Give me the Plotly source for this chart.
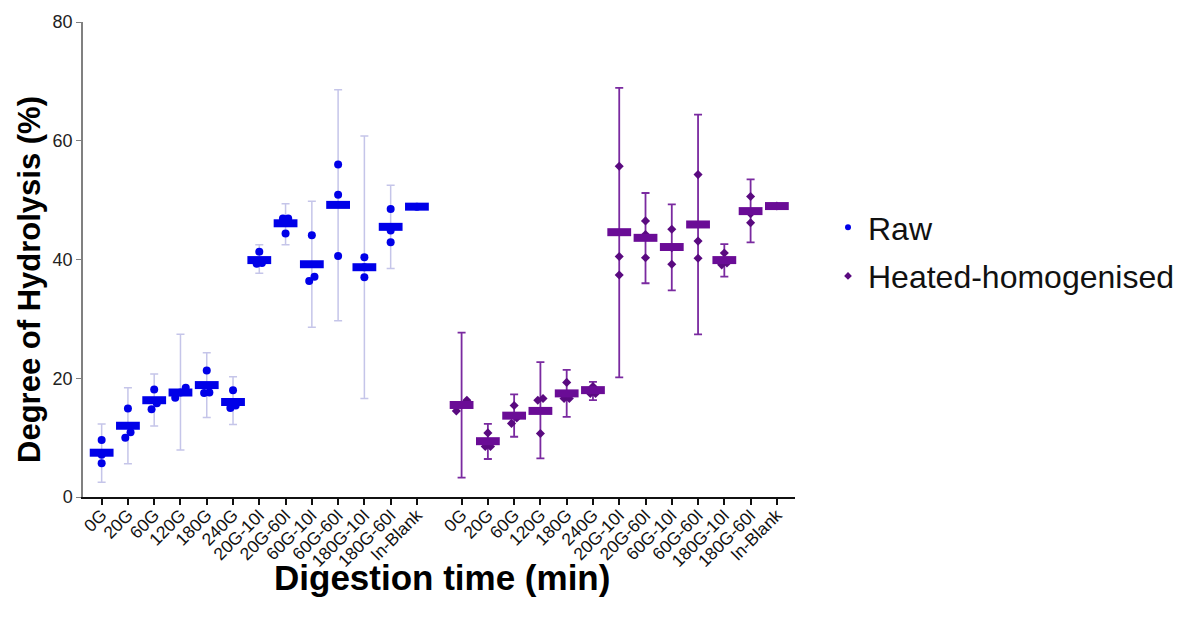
import plotly.graph_objects as go

# ---------------- data ----------------
categories = ["0G", "20G", "60G", "120G", "180G", "240G", "20G-10I", "20G-60I",
              "60G-10I", "60G-60I", "180G-10I", "180G-60I", "In-Blank"]

raw_mean = [7.46, 12.0, 16.3, 17.6, 18.85, 16.0, 39.9, 46.1, 39.2, 49.2, 38.7, 45.5, 48.9]
raw_upper = [12.3, 18.4, 20.7, 27.4, 24.3, 20.25, 42.5, 49.4, 49.8, 68.6, 60.8, 52.5, 48.9]
raw_lower = [2.5, 5.6, 11.95, 7.9, 13.4, 12.2, 37.7, 42.5, 28.6, 29.7, 16.6, 38.5, 48.9]
raw_points = [
    [9.6, 7.1, 5.7],
    [14.9, 10.9, 10.0],
    [18.1, 15.8, 14.8],
    [18.4, 17.6, 16.7],
    [21.3, 17.6, 17.5],
    [18.0, 15.4, 15.0],
    [41.3, 39.4, 39.3],
    [46.9, 46.9, 44.4],
    [44.1, 37.1, 36.4],
    [56.0, 50.9, 40.6],
    [40.4, 38.7, 37.0],
    [48.5, 44.9, 42.9],
    [48.9],
]

heat_mean = [15.5, 9.4, 13.7, 14.5, 17.45, 18.0, 44.6, 43.65, 42.1, 45.9, 39.9, 48.15, 49.0]
heat_upper = [27.7, 12.3, 17.3, 22.7, 21.4, 19.4, 68.9, 51.2, 49.3, 64.4, 42.6, 53.5, 49.0]
heat_lower = [3.25, 6.4, 10.15, 6.5, 13.5, 16.3, 20.15, 36.0, 34.8, 27.4, 37.1, 42.9, 49.0]
heat_points = [
    [16.3, 15.5, 14.5],
    [10.8, 8.5, 8.5],
    [15.4, 13.3, 12.4],
    [16.6, 16.3, 10.7],
    [19.3, 16.6, 16.6],
    [18.6, 17.45, 17.45],
    [55.7, 40.5, 37.4],
    [46.5, 44.2, 40.3],
    [45.1, 42.0, 39.2],
    [54.3, 43.1, 40.2],
    [41.1, 39.4, 39.1],
    [50.6, 47.7, 46.2],
    [49.0],
]

# ---------------- layout helpers ----------------
GROUP_GAP = 13.7          # x offset of second group (category units)
RAW_COLOR = "#0000e8"
RAW_ERR = "rgba(150,150,215,0.55)"
HEAT_COLOR = "#6a0c96"
HEAT_PT = "#5a0a80"
HEAT_ERR = "#7a2aa0"
FONT = "Liberation Sans, Arial, sans-serif"


def jitter(vals, thr=1.05, step=0.2):
    order = sorted(range(len(vals)), key=lambda i: vals[i])
    offs = [0.0] * len(vals)
    clusters, cur = [], [order[0]] if order else []
    for a, b in zip(order, order[1:]):
        if abs(vals[b] - vals[a]) < thr:
            cur.append(b)
        else:
            clusters.append(cur)
            cur = [b]
    if cur:
        clusters.append(cur)
    for cl in clusters:
        n = len(cl)
        for k, idx in enumerate(cl):
            offs[idx] = (k - (n - 1) / 2) * step
    return offs


def add_group(fig, x0, mean, upper, lower, points, color, ptcolor, errcolor,
              errthick, symbol, ptsize):
    xs = [x0 + i for i in range(len(mean))]
    # error bars
    fig.add_trace(go.Scatter(
        x=xs, y=mean, mode="markers", marker=dict(size=1, opacity=0),
        error_y=dict(type="data", symmetric=False,
                     array=[u - m for u, m in zip(upper, mean)],
                     arrayminus=[m - l for l, m in zip(lower, mean)],
                     color=errcolor, thickness=errthick, width=4),
        showlegend=False, hoverinfo="skip"))
    # individual points
    px, py = [], []
    for x, vals in zip(xs, points):
        for o, v in zip(jitter(vals), vals):
            px.append(x + o)
            py.append(v)
    fig.add_trace(go.Scatter(
        x=px, y=py, mode="markers",
        marker=dict(symbol=symbol, size=ptsize, color=ptcolor, line=dict(width=0)),
        showlegend=False))
    # mean bars
    fig.add_trace(go.Scatter(
        x=xs, y=mean, mode="markers",
        marker=dict(symbol="line-ew", size=17, line=dict(width=8, color=color)),
        showlegend=False))
    return xs


fig = go.Figure()
xs_raw = add_group(fig, 0, raw_mean, raw_upper, raw_lower, raw_points,
                   RAW_COLOR, RAW_COLOR, RAW_ERR, 1.5, "circle", 8)
xs_heat = add_group(fig, GROUP_GAP, heat_mean, heat_upper, heat_lower, heat_points,
                    HEAT_COLOR, HEAT_PT, HEAT_ERR, 1.8, "diamond", 7)

# legend entries
fig.add_trace(go.Scatter(x=[None], y=[None], mode="markers", name="Raw",
                         legendgroup="a",
                         marker=dict(symbol="circle", size=6, color=RAW_COLOR)))
fig.add_trace(go.Scatter(x=[None], y=[None], mode="markers", name="Heated-homogenised",
                         legendgroup="b",
                         marker=dict(symbol="diamond", size=6, color=HEAT_PT)))

fig.update_layout(
    width=1180, height=624,
    margin=dict(l=83, r=385, t=22, b=127, autoexpand=False),
    paper_bgcolor="white", plot_bgcolor="white",
    font=dict(family=FONT, color="#111"),
    showlegend=True,
    legend=dict(x=828 / 1180, xref="container", xanchor="left",
                y=1 - 252 / 624, yref="container", yanchor="middle",
                font=dict(size=32, color="#111"), traceorder="grouped",
                tracegroupgap=4, itemsizing="trace"),
    xaxis=dict(range=[-0.71, 26.39], tickvals=xs_raw + xs_heat,
               ticktext=categories + categories, tickangle=-45,
               tickfont=dict(size=17.5, color="#111"), ticklabelstandoff=-7,
               showline=True, linecolor="#111", linewidth=2,
               ticks="outside", ticklen=6, tickwidth=1.5, tickcolor="#111",
               showgrid=False, zeroline=False),
    yaxis=dict(range=[0, 80], tickvals=[0, 20, 40, 60, 80],
               tickfont=dict(size=18, color="#222"),
               showline=True, linecolor="#808080", linewidth=1.5,
               ticks="outside", ticklen=5, tickwidth=1.2, tickcolor="#808080",
               showgrid=False, zeroline=False),
    annotations=[
        dict(text="<b>Degree of Hydrolysis (%)</b>", xref="paper", yref="paper",
             x=-0.0744, y=0.457, xanchor="center", yanchor="middle",
             textangle=-90, showarrow=False, font=dict(size=31, color="#000")),
        dict(text="<b>Digestion time (min)</b>", xref="paper", yref="paper",
             x=0.504, y=-0.1705, xanchor="center", yanchor="middle",
             showarrow=False, font=dict(size=35, color="#000")),
    ],
)

fig.write_html("out.html")
